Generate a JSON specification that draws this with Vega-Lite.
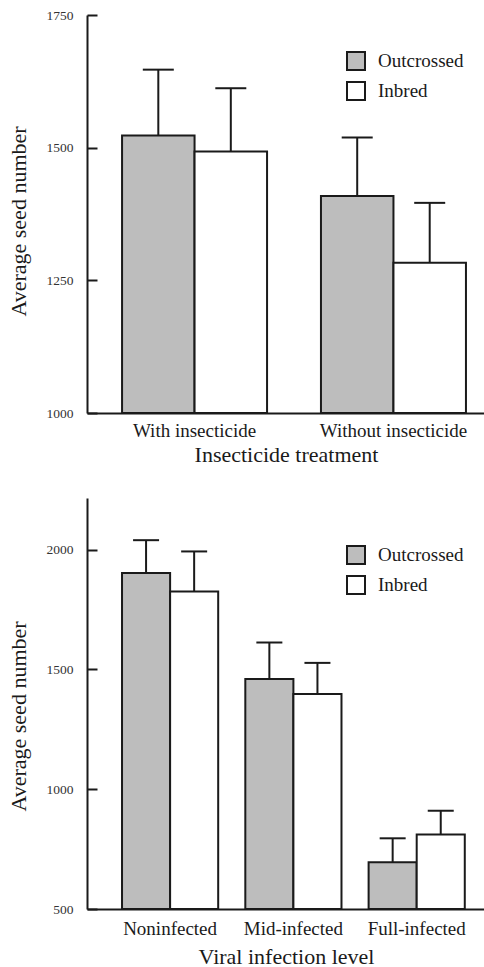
{
  "$schema": "https://vega.github.io/schema/vega-lite/v6.json",
  "background": "white",
  "padding": {"left": 7, "top": 8, "right": 0, "bottom": 0},
  "spacing": 85,
  "bounds": "flush",
  "datasets": {
    "insecticide": [
      {"treatment": "With insecticide", "cross": "Outcrossed", "mean": 1523, "upper": 1647},
      {"treatment": "With insecticide", "cross": "Inbred", "mean": 1493, "upper": 1612},
      {"treatment": "Without insecticide", "cross": "Outcrossed", "mean": 1409, "upper": 1519},
      {"treatment": "Without insecticide", "cross": "Inbred", "mean": 1283, "upper": 1396}
    ],
    "virus": [
      {"level": "Noninfected", "cross": "Outcrossed", "mean": 1902, "upper": 2039},
      {"level": "Noninfected", "cross": "Inbred", "mean": 1825, "upper": 1992},
      {"level": "Mid-infected", "cross": "Outcrossed", "mean": 1460, "upper": 1612},
      {"level": "Mid-infected", "cross": "Inbred", "mean": 1397, "upper": 1527},
      {"level": "Full-infected", "cross": "Outcrossed", "mean": 695, "upper": 795},
      {"level": "Full-infected", "cross": "Inbred", "mean": 811, "upper": 910}
    ]
  },
  "vconcat": [
    {
      "width": 398,
      "height": 398,
      "data": {"name": "insecticide"},
      "encoding": {
        "x": {
          "field": "treatment", "type": "nominal", "sort": null,
          "scale": {"paddingInner": 0.271, "paddingOuter": 0.136, "align": 0.648},
          "axis": {"title": "Insecticide treatment", "labelAngle": 0, "ticks": false, "labelPadding": 8, "titlePadding": 4}
        },
        "xOffset": {
          "field": "cross", "type": "nominal", "sort": ["Outcrossed", "Inbred"],
          "scale": {"paddingInner": 0, "paddingOuter": 0}
        }
      },
      "layer": [
        {
          "mark": {"type": "bar", "stroke": "#1a1a1a", "strokeWidth": 2},
          "encoding": {
            "y": {
              "field": "mean", "type": "quantitative",
              "scale": {"domain": [1000, 1750], "zero": false, "nice": false},
              "axis": {"title": "Average seed number", "values": [1000, 1250, 1500, 1750], "format": "d", "titleY": 206}
            },
            "y2": {"datum": 1000},
            "fill": {
              "field": "cross", "type": "nominal",
              "scale": {"domain": ["Outcrossed", "Inbred"], "range": ["#bdbdbd", "#ffffff"]},
              "legend": {"title": null, "orient": "none", "legendX": 259, "legendY": 36}
            }
          }
        },
        {
          "mark": {"type": "rule", "stroke": "#1a1a1a", "strokeWidth": 2},
          "encoding": {
            "y": {"field": "mean", "type": "quantitative"},
            "y2": {"field": "upper"}
          }
        },
        {
          "mark": {"type": "tick", "size": 31, "thickness": 2, "color": "#1a1a1a", "opacity": 1},
          "encoding": {"y": {"field": "upper", "type": "quantitative"}}
        }
      ]
    },
    {
      "width": 398,
      "height": 411,
      "data": {"name": "virus"},
      "encoding": {
        "x": {
          "field": "level", "type": "nominal", "sort": null,
          "scale": {"paddingInner": 0.22, "paddingOuter": 0.224, "align": 0.634},
          "axis": {"title": "Viral infection level", "labelAngle": 0, "ticks": false, "labelPadding": 10, "titlePadding": 8}
        },
        "xOffset": {
          "field": "cross", "type": "nominal", "sort": ["Outcrossed", "Inbred"],
          "scale": {"paddingInner": 0, "paddingOuter": 0}
        }
      },
      "layer": [
        {
          "mark": {"type": "bar", "stroke": "#1a1a1a", "strokeWidth": 2},
          "encoding": {
            "y": {
              "field": "mean", "type": "quantitative",
              "scale": {"domain": [500, 2215], "zero": false, "nice": false},
              "axis": {"title": "Average seed number", "values": [500, 1000, 1500, 2000], "format": "d", "titleY": 218}
            },
            "y2": {"datum": 500},
            "fill": {
              "field": "cross", "type": "nominal",
              "scale": {"domain": ["Outcrossed", "Inbred"], "range": ["#bdbdbd", "#ffffff"]},
              "legend": {"title": null, "orient": "none", "legendX": 259, "legendY": 47}
            }
          }
        },
        {
          "mark": {"type": "rule", "stroke": "#1a1a1a", "strokeWidth": 2},
          "encoding": {
            "y": {"field": "mean", "type": "quantitative"},
            "y2": {"field": "upper"}
          }
        },
        {
          "mark": {"type": "tick", "size": 26, "thickness": 2, "color": "#1a1a1a", "opacity": 1},
          "encoding": {"y": {"field": "upper", "type": "quantitative"}}
        }
      ]
    }
  ],
  "resolve": {"scale": {"fill": "independent", "x": "independent", "xOffset": "independent", "y": "independent"}},
  "config": {
    "font": "Liberation Serif",
    "view": {"stroke": null},
    "axis": {
      "grid": false,
      "domainColor": "#1a1a1a",
      "domainWidth": 2,
      "tickColor": "#1a1a1a",
      "tickWidth": 2,
      "labelFont": "Liberation Serif",
      "titleFont": "Liberation Serif",
      "labelColor": "#1a1a1a",
      "titleColor": "#1a1a1a",
      "titleFontWeight": "normal",
      "titleFontSize": 22,
      "labelFontSize": 19
    },
    "axisY": {
      "tickSize": -10,
      "labelPadding": 24,
      "labelFontSize": 13.5,
      "labelColor": "#333333",
      "titlePadding": 16
    },
    "legend": {
      "symbolType": "square",
      "symbolSize": 324,
      "symbolStrokeColor": "#1a1a1a",
      "symbolStrokeWidth": 2,
      "symbolOpacity": 1,
      "labelFont": "Liberation Serif",
      "labelFontSize": 19,
      "labelColor": "#1a1a1a",
      "labelOffset": 12,
      "rowPadding": 4
    }
  }
}
